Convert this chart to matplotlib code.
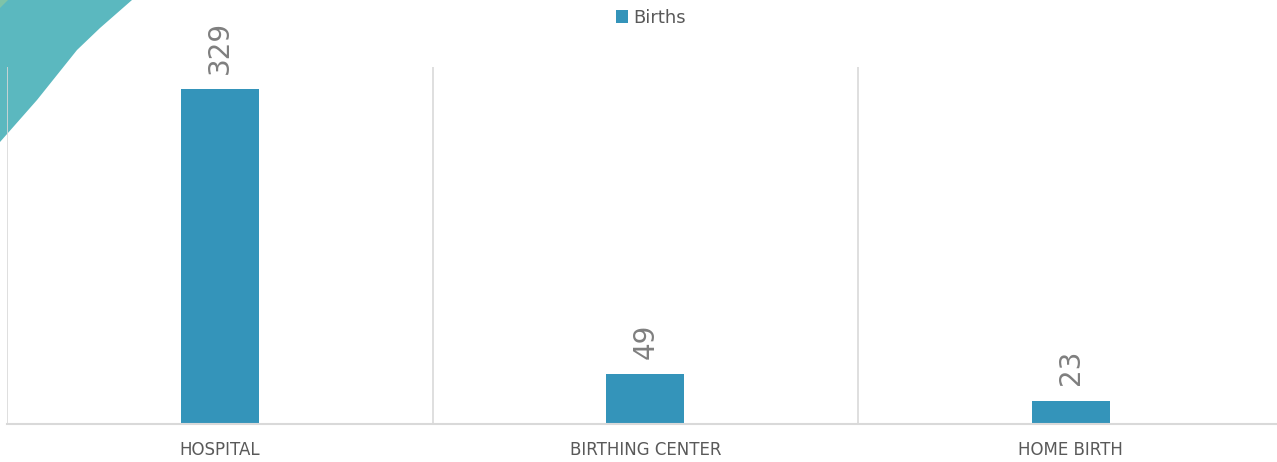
import matplotlib
matplotlib.use("Agg")
import matplotlib.pyplot as plt
from matplotlib.patches import Polygon, Patch

categories = ["HOSPITAL", "BIRTHING CENTER", "HOME BIRTH"]
births = [329, 49, 23]
series_name = "Births"

bar_color = "#3494BA"
text_gray = "#595959"
label_gray = "#7F7F7F"
grid_gray = "#D9D9D9"

fig = plt.figure(figsize=(12.77, 4.62), dpi=100)

# decorative teal shape (top-left)
deco = fig.add_axes([0, 0, 1, 1], zorder=0)
deco.set_xlim(0, 1277)
deco.set_ylim(462, 0)
deco.axis("off")
deco.add_patch(Polygon([(0, 0), (132, 0), (100, 28), (77, 50), (37, 100), (0, 142)],
                       closed=True, facecolor="#5BB8BF", edgecolor="none"))
deco.add_patch(Polygon([(0, 0), (8, 0), (0, 8)], closed=True,
                       facecolor="#7FC3A8", edgecolor="none"))

left_px, right_px, bottom_px, top_px = 7, 1283.5, 424, 67
ax = fig.add_axes([left_px / 1277, 1 - bottom_px / 462,
                   (right_px - left_px) / 1277, (bottom_px - top_px) / 462], zorder=1)
ax.patch.set_alpha(0)

x = list(range(len(categories)))
bars = ax.bar(x, births, width=0.183, color=bar_color, zorder=2)
ax.set_xlim(-0.5, len(categories) - 0.5)
ax.set_ylim(0, 350.5)

for xi, v in zip(x, births):
    ax.text(xi, v + 15, str(v), rotation=90, ha="center", va="bottom",
            fontsize=20, color=label_gray, family="DejaVu Sans")

# category separators
for b in [i - 0.5 for i in range(len(categories) + 1)]:
    ax.axvline(b, color=grid_gray, lw=1.2, zorder=1)

for s in ["top", "right", "left"]:
    ax.spines[s].set_visible(False)
ax.spines["bottom"].set_color(grid_gray)
ax.spines["bottom"].set_linewidth(1.5)
ax.set_yticks([])
ax.set_xticks(x)
ax.set_xticklabels(categories, fontsize=12, color=text_gray, family="DejaVu Sans")
ax.tick_params(axis="x", length=0, pad=12)

fig.legend(handles=[Patch(facecolor=bar_color, label=series_name)],
           loc="center", bbox_to_anchor=(651 / 1277, 1 - 18 / 462),
           frameon=False, fontsize=13, handlelength=0.7, handleheight=0.7,
           handletextpad=0.3, labelcolor=text_gray)

fig.savefig("out.png", dpi=100)
